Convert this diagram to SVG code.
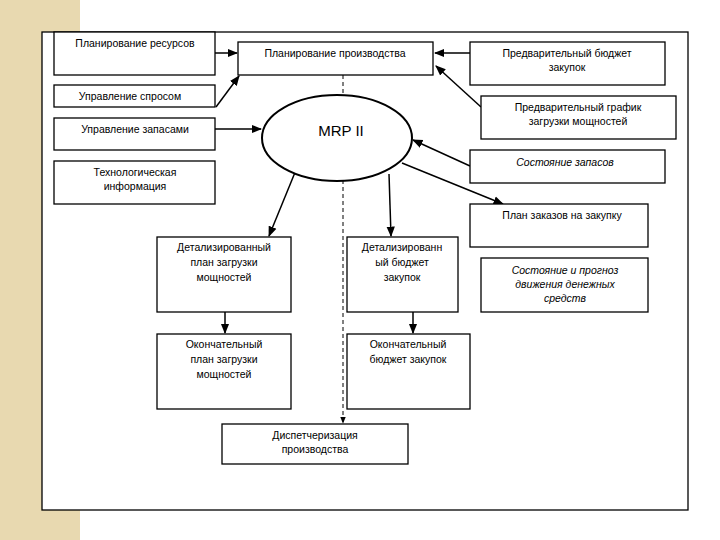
<svg xmlns="http://www.w3.org/2000/svg" width="720" height="540" viewBox="0 0 720 540">
<style>
.b{fill:#fff;stroke:#000;stroke-width:1.3}
.t{font-family:"Liberation Sans",Arial,sans-serif;font-size:10.5px;text-anchor:middle;fill:#000}
.i{font-style:italic}
.c line{stroke:#000;stroke-width:1.5;marker-end:url(#a)}
</style>
<defs><marker id="a" viewBox="0 0 10 10" refX="9" refY="5" markerWidth="7" markerHeight="7" orient="auto"><path d="M0,1 L10,5 L0,9 z" fill="#000"/></marker></defs>
<rect width="720" height="540" fill="#fff"/>
<rect x="0" y="0" width="80" height="540" fill="#e8d9b0"/>
<rect x="42" y="32" width="646" height="478" fill="#fff" stroke="#000" stroke-width="1.3"/>
<g class="c" id="connectors">
<line x1="343" y1="75" x2="343" y2="423" stroke-dasharray="4,3" style="stroke-width:1"/>
<line x1="215" y1="53" x2="237" y2="53"/>
<line x1="216" y1="107" x2="239" y2="76"/>
<line x1="215" y1="129" x2="261" y2="129"/>
<line x1="470" y1="53" x2="435" y2="53"/>
<line x1="481" y1="107" x2="436" y2="66"/>
<line x1="470" y1="166" x2="413" y2="140"/>
<line x1="402" y1="163" x2="503" y2="204"/>
<line x1="296" y1="170" x2="269" y2="236"/>
<line x1="389" y1="174" x2="391" y2="236"/>
<line x1="225" y1="312" x2="225" y2="333"/>
<line x1="413" y1="312" x2="413" y2="333"/>
</g>
<g id="n1"><rect class="b" x="54" y="32" width="161" height="43"/><text class="t" x="135" y="47">Планирование ресурсов</text></g>
<g id="n2"><rect class="b" x="238" y="42" width="195" height="33"/><text class="t" x="335" y="57">Планирование производства</text></g>
<g id="n3"><rect class="b" x="54" y="85" width="161" height="22"/><text class="t" x="130" y="100">Управление спросом</text></g>
<g id="n4"><rect class="b" x="54" y="118" width="161" height="32"/><text class="t" x="135" y="133">Управление запасами</text></g>
<g id="n5"><rect class="b" x="54" y="161" width="161" height="43"/><text class="t" x="135" y="176">Технологическая</text><text class="t" x="135" y="190">информация</text></g>
<g id="n6"><rect class="b" x="470" y="42" width="195" height="43"/><text class="t" x="567" y="57">Предварительный бюджет</text><text class="t" x="567" y="71">закупок</text></g>
<g id="n7"><rect class="b" x="481" y="96" width="195" height="43"/><text class="t" x="578" y="111">Предварительный график</text><text class="t" x="578" y="125">загрузки мощностей</text></g>
<g id="n8"><rect class="b" x="470" y="150" width="195" height="33"/><text class="t i" x="565" y="166">Состояние запасов</text></g>
<g id="n9"><rect class="b" x="470" y="204" width="178" height="43"/><text class="t" x="562" y="219">План заказов на закупку</text></g>
<g id="n10"><rect class="b" x="481" y="258" width="167" height="54"/><text class="t i" x="565" y="274">Состояние и прогноз</text><text class="t i" x="565" y="288">движения денежных</text><text class="t i" x="565" y="302">средств</text></g>
<g id="mrp"><ellipse cx="337" cy="138" rx="75" ry="43" fill="#fff" stroke="#000" stroke-width="2"/><text x="341" y="136" font-family="Liberation Sans,Arial,sans-serif" font-size="15" text-anchor="middle">MRP II</text></g>
<g id="n11"><rect class="b" x="157" y="237" width="134" height="75"/><text class="t" x="224" y="251">Детализированный</text><text class="t" x="224" y="266">план загрузки</text><text class="t" x="224" y="281">мощностей</text></g>
<g id="n12"><rect class="b" x="347" y="237" width="111" height="75"/><text class="t" x="402" y="251">Детализированн</text><text class="t" x="402" y="266">ый бюджет</text><text class="t" x="402" y="281">закупок</text></g>
<g id="n13"><rect class="b" x="157" y="334" width="134" height="75"/><text class="t" x="224" y="348">Окончательный</text><text class="t" x="224" y="363">план загрузки</text><text class="t" x="224" y="378">мощностей</text></g>
<g id="n14"><rect class="b" x="347" y="334" width="123" height="75"/><text class="t" x="408" y="348">Окончательный</text><text class="t" x="408" y="363">бюджет закупок</text></g>
<g id="n15"><rect class="b" x="222" y="424" width="186" height="40"/><text class="t" x="315" y="439">Диспетчеризация</text><text class="t" x="315" y="453">производства</text></g>
</svg>
